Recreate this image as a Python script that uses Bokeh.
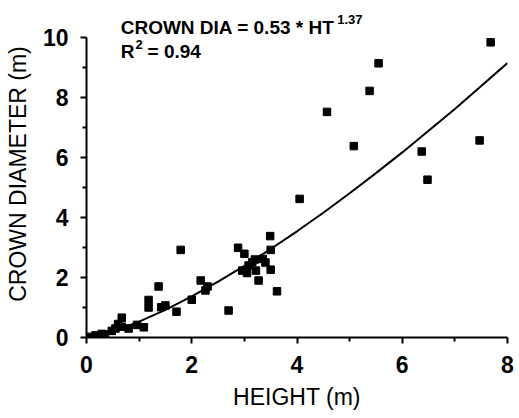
from bokeh.plotting import figure
from bokeh.models import Range1d, Label, FixedTicker
from bokeh.embed import file_html
from bokeh.resources import INLINE

# observed points (height m, crown diameter m)
height = [7.68, 5.55, 5.38, 4.57, 5.08, 6.37, 6.48, 7.47, 4.05,
          3.49, 2.88, 3.50, 3.00, 3.15, 3.35, 2.96, 3.27, 3.50, 3.62,
          3.22, 3.08, 3.20, 2.70, 3.05, 3.40,
          1.79, 1.37, 2.17, 2.26, 2.30, 2.00, 1.71, 1.18, 1.18, 1.42, 1.50,
          0.67, 0.67, 0.80, 0.96, 1.09, 0.55, 0.48, 0.29, 0.17, 0.07,
          0.35, 0.22, 0.60]
crown = [9.84, 9.14, 8.22, 7.52, 6.38, 6.20, 5.26, 6.57, 4.62,
         3.38, 2.99, 2.92, 2.79, 2.51, 2.62, 2.23, 1.90, 2.26, 1.54,
         2.23, 2.40, 2.60, 0.90, 2.15, 2.50,
         2.92, 1.70, 1.90, 1.57, 1.70, 1.26, 0.86, 1.25, 1.00, 1.01, 1.07,
         0.66, 0.36, 0.30, 0.42, 0.34, 0.30, 0.22, 0.12, 0.07, 0.02,
         0.10, 0.05, 0.45]

# fitted curve
fit_x = [0.1, 0.25, 0.5, 1, 1.5, 2, 2.5, 3, 3.5, 4, 4.5, 5, 5.5, 6, 6.5, 7, 7.5, 8]
fit_y = [0.02, 0.08, 0.2, 0.53, 0.92, 1.37, 1.86, 2.39, 2.95, 3.54, 4.16,
         4.81, 5.48, 6.17, 6.89, 7.62, 8.38, 9.15]

x_ticks = [0, 2, 4, 6, 8]
x_minor = [1, 3, 5, 7]
y_ticks = [0, 2, 4, 6, 8, 10]
y_minor = [1, 3, 5, 7, 9]

FONT = "Liberation Sans"

p = figure(width=517, height=412, output_backend="svg", toolbar_location=None,
           x_range=Range1d(0, 8), y_range=Range1d(0, 10.9),
           min_border_left=86, min_border_right=10, min_border_top=10,
           min_border_bottom=75)
p.outline_line_color = None
p.grid.visible = False
p.background_fill_color = "white"
p.border_fill_color = "white"

p.line(fit_x, fit_y, line_color="black", line_width=2)
p.scatter(height, crown, marker="square", size=7.5, fill_color="black",
          line_color="black")

for ax in (p.xaxis[0], p.yaxis[0]):
    ax.axis_line_width = 2
    ax.axis_line_color = "black"
    ax.major_tick_line_width = 2
    ax.minor_tick_line_width = 2
    ax.major_tick_out = 6
    ax.major_tick_in = 0
    ax.minor_tick_out = 4
    ax.minor_tick_in = 0
    ax.major_label_text_font = FONT
    ax.major_label_text_font_size = "23px"
    ax.major_label_text_font_style = "bold"
    ax.major_label_text_color = "black"
    ax.major_label_standoff = 12
    ax.axis_label_text_font = FONT
    ax.axis_label_text_font_size = "23px"
    ax.axis_label_text_font_style = "normal"
    ax.axis_label_text_color = "black"

p.xaxis[0].ticker = FixedTicker(ticks=x_ticks, minor_ticks=x_minor)
p.yaxis[0].ticker = FixedTicker(ticks=y_ticks, minor_ticks=y_minor)
p.yaxis[0].bounds = (0, 10)
p.xaxis.axis_label = "HEIGHT (m)"
p.yaxis.axis_label = "CROWN DIAMETER (m)"
p.xaxis.axis_label_standoff = 8
p.yaxis.axis_label_standoff = 9

def lab(x, y, text, size):
    p.add_layout(Label(x=x, y=y, text=text, text_font=FONT,
                       text_font_size=size, text_font_style="bold",
                       text_color="black", text_baseline="alphabetic",
                       text_align="left"))

lab(0.65, 10.35, "CROWN DIA = 0.53 * HT", "19px")
lab(4.765, 10.6, "1.37", "13px")
lab(0.65, 9.55, "R", "19px")
lab(0.93, 9.78, "2", "13px")
lab(1.16, 9.55, "= 0.94", "19px")

open("out.html", "w").write(file_html(p, INLINE))
